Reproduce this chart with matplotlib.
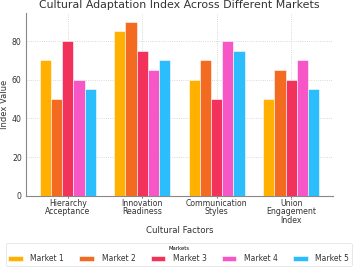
import matplotlib
matplotlib.use("Agg")
import matplotlib.pyplot as plt
import numpy as np

categories = ["Hierarchy\nAcceptance", "Innovation\nReadiness", "Communication\nStyles", "Union\nEngagement\nIndex"]
markets = ["Market 1", "Market 2", "Market 3", "Market 4", "Market 5"]
market1 = [70, 85, 60, 50]
market2 = [50, 90, 70, 65]
market3 = [80, 75, 50, 60]
market4 = [60, 65, 80, 70]
market5 = [55, 70, 75, 55]
series = [market1, market2, market3, market4, market5]
colors = ["#FFB000", "#F26B21", "#F2325A", "#F756C6", "#2BBDFC"]

plt.rcParams['font.family'] = ['DejaVu Sans']
fig = plt.figure(figsize=(3.54, 2.72), dpi=100)
ax = fig.add_axes([0.073, 0.28, 0.868, 0.672])

x = np.arange(len(categories))
w = 0.15
for i, (vals, c, m) in enumerate(zip(series, colors, markets)):
    ax.bar(x + (i - 2) * w, vals, w, color=c, label=m, edgecolor='white', linewidth=0.4, zorder=3)

ax.set_xticks(x)
ax.set_xticklabels(categories, fontsize=5.6, color='#333333', linespacing=0.95)
ax.tick_params(axis='y', labelsize=5.6, colors='#333333', length=0, pad=3)
ax.tick_params(axis='x', length=1.5, pad=0.5, color='#555555', width=0.6)
ax.set_yticks([0, 20, 40, 60, 80])
ax.set_ylabel("Index Value", fontsize=6.0, color='#333333', labelpad=2)
ax.set_xlabel("Cultural Factors", fontsize=6.2, color='#333333', labelpad=1)
ax.set_title("Cultural Adaptation Index Across Different Markets", fontsize=7.9, color='#333333', pad=4)
ax.grid(True, linestyle=':', color='#cccccc', linewidth=0.6, zorder=0)
for s in ['top', 'right']:
    ax.spines[s].set_visible(False)
for s in ['left', 'bottom']:
    ax.spines[s].set_color('#888888')
    ax.spines[s].set_linewidth(0.8)

leg = fig.legend(loc='lower center', bbox_to_anchor=(0.505, 0.008), ncol=5, fontsize=5.5,
                 title="Markets", title_fontsize=3.8, frameon=True, handlelength=1.9,
                 handleheight=0.6, columnspacing=2.0, borderpad=0.35, labelspacing=0.45,
                 handletextpad=1.0)
leg.get_frame().set_edgecolor('#dddddd')
leg.get_frame().set_linewidth(0.6)
for t in leg.get_texts():
    t.set_color('#333333')

fig.savefig("out.png", dpi=100)
